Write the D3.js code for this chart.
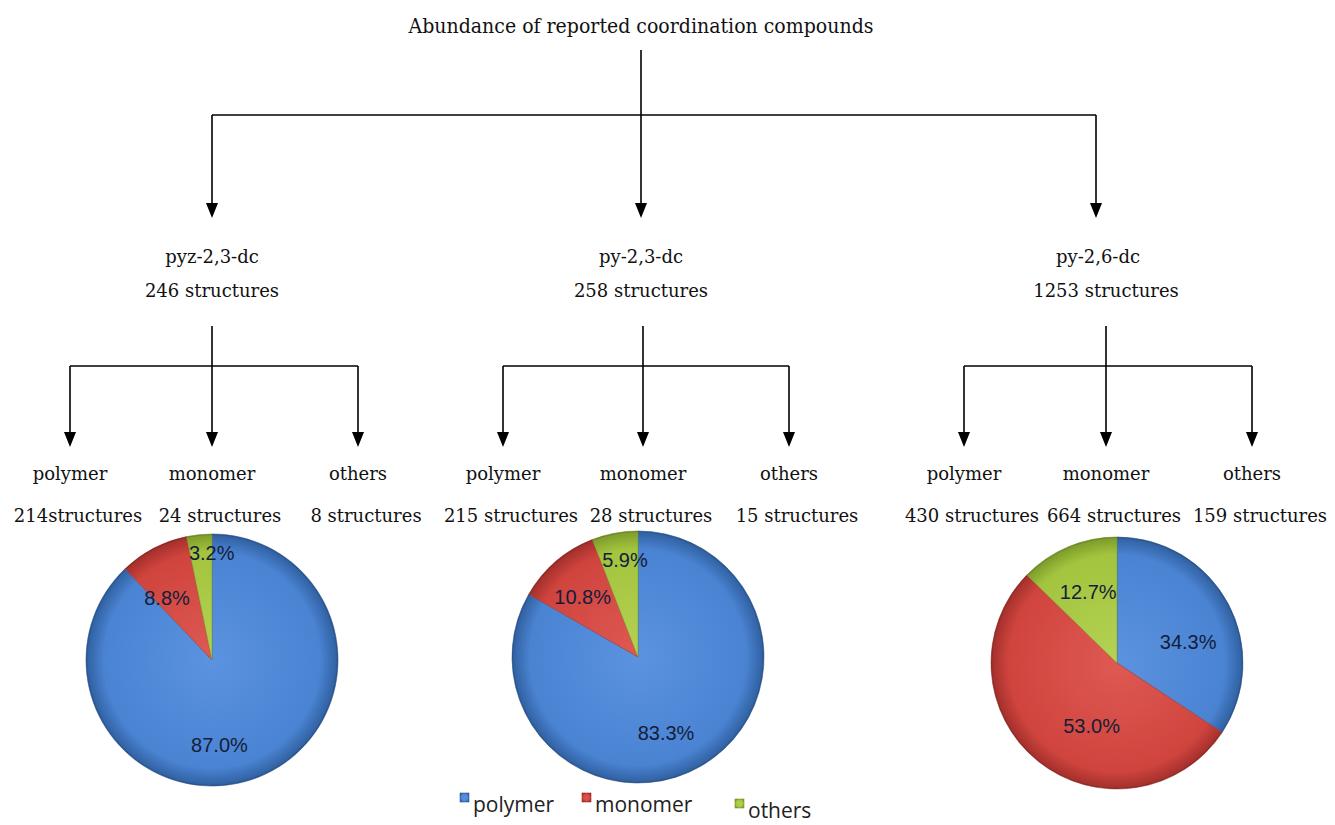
<!DOCTYPE html>
<html>
<head>
<meta charset="utf-8">
<script src="https://cdn.jsdelivr.net/npm/d3@7/dist/d3.min.js"></script>
<style>
  html, body { margin: 0; padding: 0; background: #ffffff; }
  svg { display: block; }
  .serif { font-family: "DejaVu Serif", "Liberation Serif", serif; fill: #111; }
  .pct { font-family: "Liberation Sans", Arial, sans-serif; font-size: 20px; fill: #141d3a; }
  .legend { font-family: "Open Sans", "Noto Sans", sans-serif; font-size: 21px; fill: #222; }
</style>
</head>
<body>
<svg id="chart" width="1335" height="825"></svg>
<script>
// ---- data ----
const title = "Abundance of reported coordination compounds";
const ligands = ["pyz-2,3-dc", "py-2,3-dc", "py-2,6-dc"];
const totals = [246, 258, 1253];
const classes = ["polymer", "monomer", "others"];
const counts = [
  [214, 24, 8],
  [215, 28, 15],
  [430, 664, 159]
];
const countLabels = [
  ["214structures", "24 structures", "8 structures"],
  ["215 structures", "28 structures", "15 structures"],
  ["430 structures", "664 structures", "159 structures"]
];
const percents = [
  [87.0, 8.8, 3.2],
  [83.3, 10.8, 5.9],
  [34.3, 53.0, 12.7]
];

// ---- layout ----
const W = 1335, H = 825;
const rootX = 641;                       // title stem
const branchX = [212, 641, 1096];        // top-level arrows
const subX = [[70, 212, 358], [503, 643, 789], [964, 1106, 1252]];
const pieCenters = [[212, 660], [638, 657], [1117, 663]];
const pieR = 126;
// small adjustments of the percentage labels away from the slice centroid
const labelNudge = [
  [[-23, 9], [-7, 11], [8, -26]],
  [[-13, 5], [-2, 2], [2, -17]],
  [[-1, 18], [26, -1], [3, 4]]
];
const colors = { polymer: "#4a83d2", monomer: "#d0443e", others: "#a3c43e" };
const dark = { polymer: "#2f5f9f", monomer: "#a22f2b", others: "#7c9a2a" };
const light = { polymer: "#5b93e0", monomer: "#dd5a52", others: "#b4d255" };

const svg = d3.select("#chart");
const defs = svg.append("defs");

classes.forEach(c => {
  const g = defs.append("radialGradient").attr("id", "grad-" + c)
    .attr("gradientUnits", "objectBoundingBox").attr("cx", "50%").attr("cy", "50%").attr("r", "50%");
  g.append("stop").attr("offset", "0%").attr("stop-color", light[c]);
  g.append("stop").attr("offset", "88%").attr("stop-color", colors[c]);
  g.append("stop").attr("offset", "100%").attr("stop-color", dark[c]);
  const gu = defs.append("radialGradient").attr("id", "pgrad-" + c)
    .attr("gradientUnits", "userSpaceOnUse").attr("cx", 0).attr("cy", 0).attr("r", pieR);
  gu.append("stop").attr("offset", "0%").attr("stop-color", light[c]);
  gu.append("stop").attr("offset", "86%").attr("stop-color", colors[c]);
  gu.append("stop").attr("offset", "100%").attr("stop-color", dark[c]);
});

// ---- tree connectors ----
const lines = svg.append("g").attr("stroke", "#000").attr("stroke-width", 1.6).attr("fill", "none");
const arrows = svg.append("g").attr("fill", "#000");
const headLen = 15, headHalf = 6;

function arrowDown(x, y0, tipY) {
  lines.append("line").attr("x1", x).attr("x2", x).attr("y1", y0).attr("y2", tipY - headLen + 1);
  arrows.append("path").attr("d", `M${x - headHalf},${tipY - headLen} L${x + headHalf},${tipY - headLen} L${x},${tipY} Z`);
}

svg.append("text").attr("class", "serif")
  .attr("x", rootX).attr("y", 33).attr("text-anchor", "middle")
  .attr("font-size", 20).attr("textLength", 465).attr("lengthAdjust", "spacingAndGlyphs")
  .text(title);

lines.append("line").attr("x1", branchX[0]).attr("x2", branchX[2]).attr("y1", 115).attr("y2", 115);
arrowDown(rootX, 50, 218);
arrowDown(branchX[0], 115, 218);
arrowDown(branchX[2], 115, 218);

const groupCenterText = [212, 641, 1098];
ligands.forEach((name, i) => {
  svg.append("text").attr("class", "serif").attr("font-size", 18)
    .attr("x", groupCenterText[i]).attr("y", 263).attr("text-anchor", "middle").text(name);
  svg.append("text").attr("class", "serif").attr("font-size", 18)
    .attr("x", groupCenterText[i] + (i === 2 ? 8 : 0)).attr("y", 297).attr("text-anchor", "middle")
    .text(`${totals[i]} structures`);

  const xs = subX[i];
  arrowDown(xs[1], 326, 447);
  lines.append("line").attr("x1", xs[0]).attr("x2", xs[2]).attr("y1", 366).attr("y2", 366);
  arrowDown(xs[0], 366, 447);
  arrowDown(xs[2], 366, 447);

  classes.forEach((c, j) => {
    svg.append("text").attr("class", "serif").attr("font-size", 18)
      .attr("x", xs[j]).attr("y", 480).attr("text-anchor", "middle").text(c);
    svg.append("text").attr("class", "serif").attr("font-size", 18)
      .attr("x", xs[j] + 8).attr("y", 522).attr("text-anchor", "middle").text(countLabels[i][j]);
  });
});

// ---- pies ----
const pie = d3.pie().sort(null).value(d => d.value).startAngle(0).endAngle(2 * Math.PI);
const arc = d3.arc().innerRadius(0).outerRadius(pieR);
const labelArc = d3.arc().innerRadius(pieR * 0.65).outerRadius(pieR * 0.65);

percents.forEach((vals, i) => {
  const data = classes.map((c, j) => ({ key: c, value: vals[j], idx: j }));
  const g = svg.append("g").attr("transform", `translate(${pieCenters[i][0]},${pieCenters[i][1]})`);
  const arcs = pie(data);
  g.selectAll("path.slice").data(arcs).join("path")
    .attr("class", "slice")
    .attr("d", arc)
    .attr("fill", d => `url(#pgrad-${d.data.key})`)
    .attr("stroke", d => dark[d.data.key])
    .attr("stroke-opacity", 0.55)
    .attr("stroke-width", 1);
  // soft rim
  g.append("circle").attr("r", pieR - 0.5).attr("fill", "none")
    .attr("stroke", "#000").attr("stroke-opacity", 0.12).attr("stroke-width", 1.5);

  g.selectAll("text.pct").data(arcs).join("text")
    .attr("class", "pct")
    .attr("text-anchor", "middle")
    .attr("dominant-baseline", "central")
    .attr("x", d => labelArc.centroid(d)[0] + labelNudge[i][d.data.idx][0])
    .attr("y", d => labelArc.centroid(d)[1] + labelNudge[i][d.data.idx][1])
    .text(d => d.data.value.toFixed(1) + "%");
});

// ---- legend ----
const legendX = [460, 582, 735];
const legendDy = [0, 0, 6];
classes.forEach((c, j) => {
  const y = 793 + legendDy[j];
  svg.append("rect").attr("x", legendX[j]).attr("y", y).attr("width", 9).attr("height", 9)
    .attr("fill", `url(#grad-${c})`).attr("stroke", dark[c]).attr("stroke-width", 0.6);
  svg.append("text").attr("class", "legend")
    .attr("x", legendX[j] + 13).attr("y", y + 19).text(c);
});
</script>
</body>
</html>
